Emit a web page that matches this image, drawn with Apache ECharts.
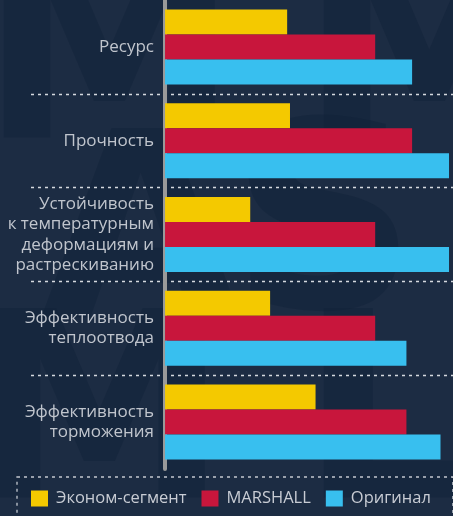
<!DOCTYPE html>
<html>
<head>
<meta charset="utf-8">
<script src="https://cdn.jsdelivr.net/npm/echarts@6/dist/echarts.min.js"></script>
<style>
  html, body { margin: 0; padding: 0; background: #1c2c43; }
  #chart { width: 453px; height: 516px; }
</style>
</head>
<body>
<div id="chart"></div>
<script>
    // категории сверху вниз
    var categories = [
        'Ресурс',
        'Прочность',
        'Устойчивость\nк температурным\nдеформациям и\nрастрескиванию',
        'Эффективность\nтеплоотвода',
        'Эффективность\nторможения'
    ];
    var seriesNames = ['Эконом-сегмент', 'MARSHALL', 'Оригинал'];
    var economy = [43, 44, 30, 37, 53];
    var marshall = [74, 87, 74, 74, 85];
    var original = [87, 100, 100, 85, 97];
    var colors = ['#f4c900', '#c8163c', '#38bfef'];

    var chart = echarts.init(document.getElementById('chart'));
    var font = 'Open Sans';

    // фоновые буквы
    var bgLetters = [
        { text: 'M', x: -20, y: -60 },
        { text: 'M', x: 300, y: -60 },
        { text: 'A', x: 40, y: 120 },
        { text: 'S', x: 230, y: 110 },
        { text: 'M', x: -30, y: 300 },
        { text: 'L', x: 300, y: 300 }
    ];

    function makeBar(idx, data) {
        return {
            name: seriesNames[idx],
            type: 'bar',
            data: data,
            barWidth: 25,
            barGap: '0%',
            itemStyle: { color: colors[idx] },
            z: 3
        };
    }

    var options = {
        backgroundColor: '#1c2c43',
        animation: false,
        graphic: bgLetters.map(function (l) {
            return {
                type: 'text', left: l.x, top: l.y, silent: true, z: -10,
                style: {
                    text: l.text, fontSize: 260, fontWeight: 'bold',
                    fontFamily: 'DejaVu Sans', fill: 'rgba(14,32,54,0.4)'
                }
            };
        }),
        grid: { left: 31, right: 0, top: 0, bottom: 47, containLabel: false, outerBoundsMode: 'none' },
        legend: {
            data: seriesNames,
            left: 17,
            top: 477,
            padding: [13, 22, 14, 14],
            itemWidth: 17,
            itemHeight: 16,
            itemGap: 15,
            icon: 'rect',
            borderColor: '#c3c8d0',
            borderWidth: 1.3,
            borderType: [3, 4],
            textStyle: { color: '#c8ccd4', fontSize: 16.5, fontFamily: font, padding: [0, 0, 0, 3] }
        },
        xAxis: {
            type: 'value',
            min: -47.2,
            max: 101.4,
            show: false
        },
        yAxis: {
            type: 'category',
            data: categories,
            inverse: true,
            axisLine: { show: true, onZero: true, lineStyle: { color: '#9a9a9a', width: 4 } },
            axisTick: { show: false },
            axisLabel: {
                color: '#c0c5cd', fontSize: 17, fontFamily: font,
                lineHeight: 20.5, margin: -123, align: 'right'
            },
            splitLine: {
                show: true,
                showMinLine: false,
                showMaxLine: false,
                lineStyle: { color: '#d5d9df', width: 1.3, type: [3, 4] }
            }
        },
        series: [
            makeBar(0, economy),
            makeBar(1, marshall),
            makeBar(2, original)
        ]
    };
    chart.setOption(options);
</script>
</body>
</html>
